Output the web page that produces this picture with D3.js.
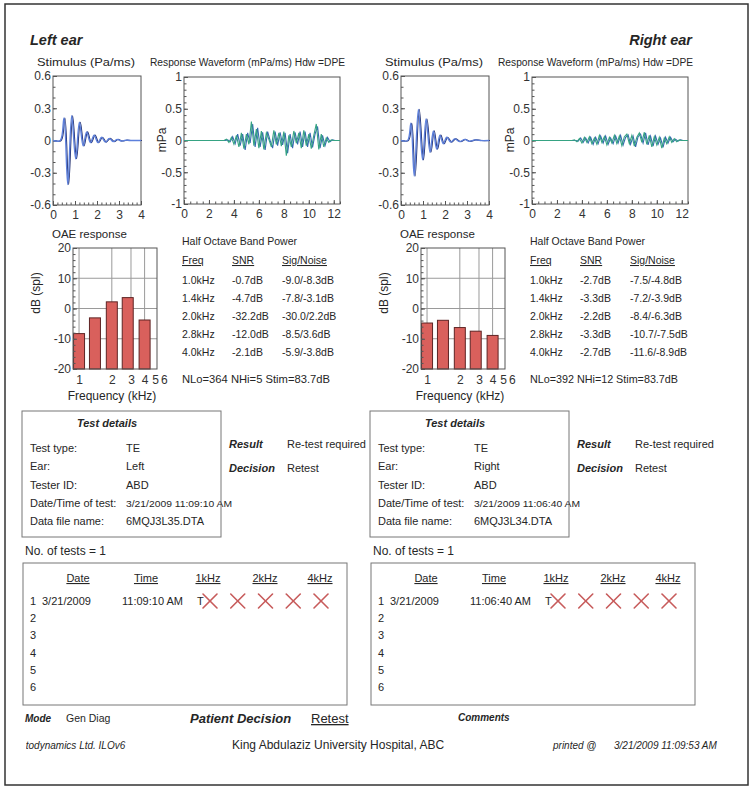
<!DOCTYPE html>
<html>
<head>
<meta charset="utf-8">
<script src="https://cdn.jsdelivr.net/npm/d3@7"></script>
<style>
  body { margin: 0; background: #fff; }
  svg { display: block; font-family: "Liberation Sans", Arial, sans-serif; }
</style>
</head>
<body>
<svg id="chart" width="754" height="791"></svg>
<script>
// ---- data ----
const stimTicks = [0, 1, 2, 3, 4];
const stimYTicks = [0.6, 0.3, 0, -0.3, -0.6];
const respTicks = [0, 2, 4, 6, 8, 10, 12];
const respYTicks = [1, 0.5, 0, -0.5, -1];
const oaeYTicks = [20, 10, 0, -10, -20];
const oaeXTicks = [1, 2, 3, 4, 5, 6];
const bandFreqs = [1.0, 1.4, 2.0, 2.8, 4.0];
const bandLabels = ["1.0kHz", "1.4kHz", "2.0kHz", "2.8kHz", "4.0kHz"];

// stimulus waveform extremes [ms, Pa]
const leftStim = [[0,0],[0.33,0],[0.5,0.21],[0.67,-0.41],[0.85,0.23],[1.03,-0.17],[1.2,0.17],[1.37,-0.05],
  [1.53,0.08],[1.7,-0.02],[1.87,0.05],[2.04,-0.02],[2.21,0.03],[2.38,-0.015],[2.56,0.02],[2.74,-0.01],
  [2.92,0.01],[3.1,-0.005],[3.3,0.003],[3.5,0],[4,0]];
const rightStim = [[0,0],[0.3,0],[0.45,0.16],[0.6,-0.33],[0.79,0.29],[0.98,-0.18],[1.14,0.2],[1.32,-0.11],
  [1.47,0.09],[1.62,-0.08],[1.77,0.05],[1.92,-0.03],[2.08,0.03],[2.26,-0.015],[2.44,0.015],[2.67,-0.01],
  [2.9,0.01],[3.1,-0.008],[3.36,0.006],[3.6,0],[4,0]];

// response waveform (two buffers), sampled every 0.2 ms (mPa); buffer B starts half a step later
const respT0A = 3.2, respT0B = 3.3, respStep = 0.2, respEnd = 12.5;
const leftRespA = [0,0.02,-0.03,0.05,-0.06,0.08,-0.1,0.12,-0.13,0.1,
  -0.06,0.3,-0.08,0.18,-0.12,0.15,-0.14,0.12,0.02,-0.1,
  0.16,-0.06,0.12,-0.09,0.14,-0.24,0.08,-0.1,0.15,-0.04,
  0.12,-0.12,0.16,-0.08,0.1,-0.13,0.08,0.26,-0.14,0.1,
  -0.1,0.04,-0.03,0.01,0];
const leftRespB = [0,0.01,-0.02,0.06,-0.05,0.1,-0.08,0.1,-0.15,0.12,
  -0.04,0.26,-0.1,0.2,-0.1,0.13,-0.15,0.14,0,-0.12,
  0.14,-0.08,0.13,-0.07,0.12,-0.2,0.1,-0.12,0.13,-0.06,
  0.14,-0.1,0.14,-0.1,0.12,-0.11,0.1,0.22,-0.12,0.08,
  -0.08,0.05,-0.02,0.01,0];
const rightRespA = [0,0.01,-0.02,0.03,-0.04,0.05,-0.03,0.06,-0.05,0.04,
  -0.06,0.08,-0.03,0.06,-0.07,0.05,-0.04,0.08,-0.05,0.07,
  -0.08,0.06,0.1,-0.05,0.08,-0.09,0.05,0.12,-0.03,0.13,
  -0.06,0.08,-0.1,0.06,-0.07,0.05,-0.12,0.04,-0.05,0.06,
  -0.03,0.03,-0.02,0.01,0];
const rightRespB = [0,0,-0.01,0.04,-0.03,0.04,-0.04,0.05,-0.06,0.05,
  -0.05,0.07,-0.04,0.07,-0.06,0.04,-0.05,0.07,-0.04,0.08,
  -0.07,0.05,0.09,-0.06,0.07,-0.1,0.06,0.1,-0.04,0.12,
  -0.07,0.07,-0.09,0.07,-0.06,0.04,-0.11,0.05,-0.04,0.05,
  -0.02,0.02,-0.01,0.01,0];

// half octave band power (dB)
const leftSnr = [-0.7, -4.7, -32.2, -12.0, -2.1];
const leftSig = [-9.0, -7.8, -30.0, -8.5, -5.9];
const leftNoise = [-8.3, -3.1, 2.2, 3.6, -3.8];
const rightSnr = [-2.7, -3.3, -2.2, -3.3, -2.7];
const rightSig = [-7.5, -7.2, -8.4, -10.7, -11.6];
const rightNoise = [-4.8, -3.9, -6.3, -7.5, -8.9];
const leftStats = [364, 5, 83.7];
const rightStats = [392, 12, 83.7];

// test details
const detailLabels = ["Test type:", "Ear:", "Tester ID:", "Date/Time of test:", "Data file name:"];
const leftDetails = ["TE", "Left", "ABD", "3/21/2009 11:09:10 AM", "6MQJ3L35.DTA"];
const rightDetails = ["TE", "Right", "ABD", "3/21/2009 11:06:40 AM", "6MQJ3L34.DTA"];

// test history
const histHeaders = ["Date", "Time", "1kHz", "2kHz", "4kHz"];
const histRows = [1, 2, 3, 4, 5, 6];
const leftHist = { date: "3/21/2009", time: "11:09:10 AM", bands: ["fail", "fail", "fail", "fail", "fail"] };
const rightHist = { date: "3/21/2009", time: "11:06:40 AM", bands: ["fail", "fail", "fail", "fail", "fail"] };

// ---- drawing ----
const svg = d3.select("#chart");
const ink = "#262626";
const font = '"Liberation Sans", Arial, sans-serif';

function txt(g, x, y, s, size, o) {
  o = o || {};
  const t = g.append("text").attr("x", x).attr("y", y).attr("font-size", size)
    .attr("fill", o.fill || ink).text(s);
  if (o.bold) t.attr("font-weight", "bold");
  if (o.italic) t.attr("font-style", "italic");
  if (o.anchor) t.attr("text-anchor", o.anchor);
  if (o.len) t.attr("textLength", o.len).attr("lengthAdjust", "spacingAndGlyphs");
  if (o.under) t.attr("text-decoration", "underline");
  return t;
}

function styleAxis(a) {
  a.select(".domain").remove();
  a.selectAll(".tick line").attr("stroke", "#555");
  a.selectAll(".tick text").attr("fill", "#333").attr("font-size", 12).attr("font-family", font);
}

function plotBox(g, x, y, xTicks, yTicks, xMinor, yMinor) {
  const [x0, x1] = x.range(), [y0, y1] = y.range();
  g.append("rect").attr("x", x0).attr("y", y1).attr("width", x1 - x0).attr("height", y0 - y1)
    .attr("fill", "none").attr("stroke", "#555");
  g.append("g").attr("transform", "translate(0," + y0 + ")")
    .call(d3.axisBottom(x).tickValues(xMinor).tickSize(-2.5).tickFormat("")).call(styleAxis);
  g.append("g").attr("transform", "translate(0," + y0 + ")")
    .call(d3.axisBottom(x).tickValues(xTicks).tickSize(-4).tickPadding(5).tickFormat(d => String(d))).call(styleAxis);
  g.append("g").attr("transform", "translate(" + x0 + ",0)")
    .call(d3.axisLeft(y).tickValues(yMinor).tickSize(-2.5).tickFormat("")).call(styleAxis);
  g.append("g").attr("transform", "translate(" + x0 + ",0)")
    .call(d3.axisLeft(y).tickValues(yTicks).tickSize(-4).tickPadding(2).tickFormat(d => String(d))).call(styleAxis);
}

function drawEar(ox, e) {
  const g = svg.append("g").attr("transform", "translate(" + ox + ",0)");

  // stimulus
  txt(g, 37, 66, "Stimulus (Pa/ms)", 11.5, { len: 98 });
  const sx = d3.scaleLinear().domain([0, 4]).range([53, 141]);
  const sy = d3.scaleLinear().domain([-0.6, 0.6]).range([205, 76]);
  plotBox(g, sx, sy, stimTicks, stimYTicks, d3.range(0, 4.01, 0.2), d3.range(-0.6, 0.61, 0.1));
  const sline = d3.line().x(d => sx(d[0])).y(d => sy(d[1])).curve(d3.curveCatmullRom.alpha(0.5));
  g.append("path").datum(e.stim).attr("d", sline).attr("fill", "none")
    .attr("stroke", "#23306e").attr("stroke-width", 1.1).attr("transform", "translate(0.9,0)");
  g.append("path").datum(e.stim).attr("d", sline).attr("fill", "none")
    .attr("stroke", "#5d80dc").attr("stroke-width", 1.4);

  // response waveform
  txt(g, 150, 66, "Response Waveform (mPa/ms) Hdw =DPE", 10, { len: 195 });
  const rx = d3.scaleLinear().domain([0, 12.5]).range([184, 340]);
  const ry = d3.scaleLinear().domain([-1, 1]).range([204, 77]);
  plotBox(g, rx, ry, respTicks, respYTicks, d3.range(0, 12.6, 0.5), d3.range(-1, 1.01, 0.1));
  txt(g, 0, 0, "mPa", 12).attr("transform", "translate(166,140) rotate(-90)").attr("text-anchor", "middle");
  const rline = d3.line().x(d => rx(d[0])).y(d => ry(d[1]));
  [[e.respB, respT0B, "#3568b0"], [e.respA, respT0A, "#36a383"]].forEach(([vals, t0, col]) => {
    const pts = [[0, 0]].concat(vals.map((v, i) => [t0 + i * respStep, v]), [[respEnd, 0]]);
    g.append("path").datum(pts).attr("d", rline).attr("fill", "none")
      .attr("stroke", col).attr("stroke-width", 1.1);
  });

  // OAE response bars
  txt(g, 52, 238, "OAE response", 11.5);
  const fx = d3.scaleLog().domain([0.88, 5.2]).range([73, 157]);
  const fy = d3.scaleLinear().domain([-20, 20]).range([369, 248]);
  g.append("g").selectAll("line.v").data([1, 2, 3, 4]).enter().append("line")
    .attr("x1", d => fx(d)).attr("x2", d => fx(d)).attr("y1", fy(-20)).attr("y2", fy(20))
    .attr("stroke", "#9a9a9a");
  g.append("g").selectAll("line.h").data([10, 0, -10]).enter().append("line")
    .attr("x1", fx(0.88)).attr("x2", fx(5.2)).attr("y1", d => fy(d)).attr("y2", d => fy(d))
    .attr("stroke", "#9a9a9a");
  g.append("g").selectAll("rect").data(e.noise).enter().append("rect")
    .attr("x", (d, i) => fx(bandFreqs[i]) - 5.5).attr("width", 11)
    .attr("y", d => fy(d)).attr("height", d => fy(-20) - fy(d))
    .attr("fill", "#d9605c").attr("stroke", "#5e2424").attr("stroke-width", 1);
  g.append("rect").attr("x", 73).attr("y", 248).attr("width", 84).attr("height", 121)
    .attr("fill", "none").attr("stroke", "#555");
  g.append("g").attr("transform", "translate(73,0)")
    .call(d3.axisLeft(fy).tickValues(d3.range(-20, 20.1, 2)).tickSize(-2.5).tickFormat("")).call(styleAxis);
  g.append("g").attr("transform", "translate(73,0)")
    .call(d3.axisLeft(fy).tickValues(oaeYTicks).tickSize(-4).tickPadding(2).tickFormat(d => String(d))).call(styleAxis);
  g.append("g").attr("transform", "translate(0,369)")
    .call(d3.axisBottom(fx).tickValues(oaeXTicks).tickSize(0).tickPadding(6).tickFormat(d => String(d))).call(styleAxis);
  txt(g, 0, 0, "dB (spl)", 12).attr("transform", "translate(40,293) rotate(-90)").attr("text-anchor", "middle");
  txt(g, 112, 400, "Frequency (kHz)", 12, { anchor: "middle" });

  // band power table
  const fs = 10.5;
  txt(g, 182, 245, "Half Octave Band Power", fs);
  txt(g, 182, 264, "Freq", fs, { under: true });
  txt(g, 232, 264, "SNR", fs, { under: true });
  txt(g, 282, 264, "Sig/Noise", fs, { under: true });
  const rowY = d3.scaleLinear().domain([0, 4]).range([284, 356]);
  bandLabels.forEach((lab, i) => {
    txt(g, 182, rowY(i), lab, fs);
    txt(g, 232, rowY(i), e.snr[i].toFixed(1) + "dB", fs);
    txt(g, 282, rowY(i), e.sig[i].toFixed(1) + "/" + e.noise[i].toFixed(1) + "dB", fs);
  });
  txt(g, 182, 383, "NLo=" + e.stats[0] + "  NHi=" + e.stats[1] + "  Stim=" + e.stats[2] + "dB", fs, { len: 148 });

  // test details box
  g.append("rect").attr("x", 22).attr("y", 411).attr("width", 199).attr("height", 126)
    .attr("fill", "none").attr("stroke", "#777");
  txt(g, 107, 427, "Test details", 11, { bold: true, italic: true, anchor: "middle" });
  const detY = d3.scaleLinear().domain([0, 4]).range([452, 525]);
  detailLabels.forEach((lab, i) => {
    txt(g, 30, detY(i), lab, 11);
    if (i === 3) txt(g, 126, detY(i), e.details[i], 9, { len: 106 });
    else txt(g, 126, detY(i), e.details[i], 11);
  });
  txt(g, 229, 448, "Result", 11, { bold: true, italic: true });
  txt(g, 287, 448, "Re-test required", 11);
  txt(g, 229, 472, "Decision", 11, { bold: true, italic: true });
  txt(g, 287, 472, "Retest", 11);

  // test history
  txt(g, 25, 555, "No. of tests = 1", 12);
  g.append("rect").attr("x", 23).attr("y", 563).attr("width", 324).attr("height", 142)
    .attr("fill", "none").attr("stroke", "#777");
  const headX = [78, 146, 208, 265, 320];
  histHeaders.forEach((h, i) => txt(g, headX[i], 582, h, 11, { anchor: "middle", under: true }));
  const histY = d3.scaleLinear().domain([1, 6]).range([605, 691]);
  histRows.forEach(r => txt(g, 30, histY(r), String(r), 11));
  txt(g, 42, histY(1), e.hist.date, 11);
  txt(g, 122, histY(1), e.hist.time, 11);
  txt(g, 197, histY(1), "T", 11);
  const colX = d3.scaleLinear().domain([0, 4]).range([210, 321]);
  const cy = histY(1) - 4, h = 7;
  e.hist.bands.forEach((b, i) => {
    const cx = colX(i);
    [[-h, -h, h, h], [-h, h, h, -h]].forEach(([a, b1, c, d]) => {
      g.append("line").attr("x1", cx + a).attr("y1", cy + b1).attr("x2", cx + c).attr("y2", cy + d)
        .attr("stroke", "#c75b5b").attr("stroke-width", 1.6).attr("stroke-linecap", "round");
    });
  });
}

// outer frame
svg.append("rect").attr("x", 5).attr("y", 4).attr("width", 743).attr("height", 781)
  .attr("fill", "none").attr("stroke", "#333").attr("stroke-width", 1.5);

txt(svg, 30, 45, "Left ear", 14.5, { bold: true, italic: true });
txt(svg, 692, 45, "Right ear", 14.5, { bold: true, italic: true, anchor: "end" });

drawEar(0, { stim: leftStim, respA: leftRespA, respB: leftRespB, snr: leftSnr, sig: leftSig,
  noise: leftNoise, stats: leftStats, details: leftDetails, hist: leftHist });
drawEar(348, { stim: rightStim, respA: rightRespA, respB: rightRespB, snr: rightSnr, sig: rightSig,
  noise: rightNoise, stats: rightStats, details: rightDetails, hist: rightHist });

// footer
txt(svg, 25, 722, "Mode", 10, { bold: true, italic: true });
txt(svg, 66, 722, "Gen Diag", 10.5);
txt(svg, 190, 723, "Patient Decision", 13, { bold: true, italic: true });
txt(svg, 311, 723, "Retest", 13, { under: true });
txt(svg, 458, 721, "Comments", 10, { bold: true, italic: true });

svg.append("clipPath").attr("id", "page").append("rect")
  .attr("x", 26).attr("y", 0).attr("width", 723).attr("height", 791);
const foot = svg.append("g").attr("clip-path", "url(#page)");
txt(foot, 18, 749, "Otodynamics Ltd. ILOv6", 10, { italic: true });
txt(svg, 232, 749, "King Abdulaziz University Hospital, ABC", 12);
txt(foot, 553, 749, "printed @", 10, { italic: true });
txt(foot, 614, 749, "3/21/2009 11:09:53 AM", 10, { italic: true });
</script>
</body>
</html>
